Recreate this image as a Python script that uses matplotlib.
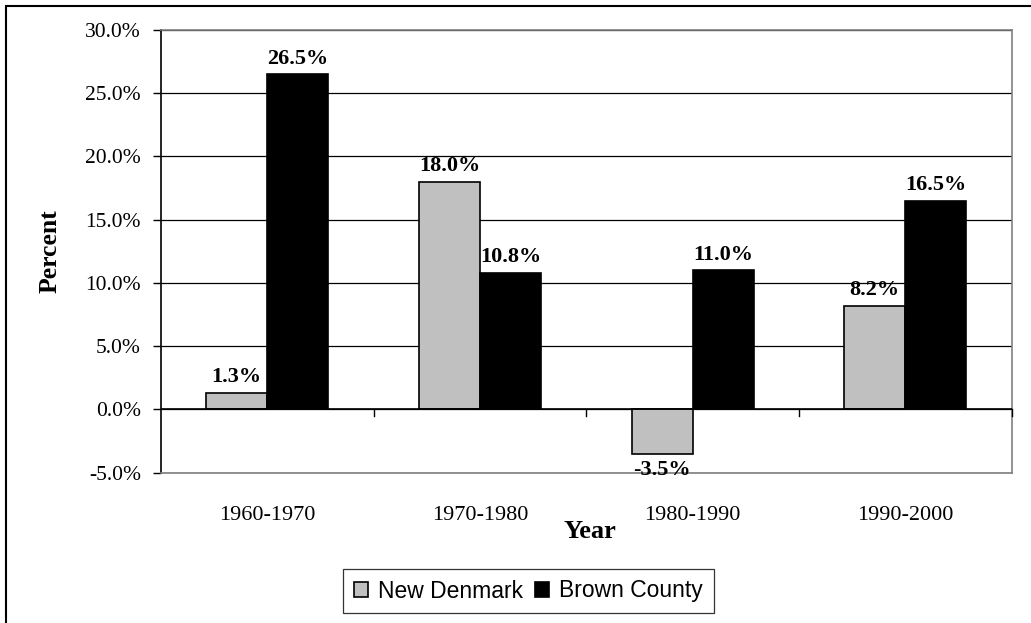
import matplotlib.pyplot as plt
import numpy as np
from matplotlib.patches import Rectangle

# population change by decade
periods = ["1960-1970", "1970-1980", "1980-1990", "1990-2000"]
new_denmark = [1.3, 18.0, -3.5, 8.2]
brown_county = [26.5, 10.8, 11.0, 16.5]
yticks = [-5, 0, 5, 10, 15, 20, 25, 30]

serif = "Liberation Serif"

fig = plt.figure(figsize=(10.31, 6.23), dpi=100)
ax = fig.add_axes([161 / 1031, 1 - 472.5 / 623, 850.5 / 1031, 442.5 / 623])

# outer chart border (only left/top fall inside the image)
fig.patches.append(Rectangle((6 / 1031, -0.05), 1.2, 1 - 6.5 / 623 + 0.05,
                             transform=fig.transFigure, fill=False,
                             edgecolor="black", linewidth=1.5))

x = np.arange(len(periods))
w = 0.287
b1 = ax.bar(x - w / 2, new_denmark, w, color="#c0c0c0", edgecolor="black",
            linewidth=1.2, label="New Denmark", zorder=3)
b2 = ax.bar(x + w / 2, brown_county, w, color="black", edgecolor="black",
            linewidth=1.2, label="Brown County", zorder=3)

for bars, vals in ((b1, new_denmark), (b2, brown_county)):
    for r, v in zip(bars, vals):
        cx = r.get_x() + r.get_width() / 2
        if v >= 0:
            ax.annotate("%.1f%%" % v, (cx, v), xytext=(0, 4), textcoords="offset points",
                        ha="center", va="bottom", fontsize=16, fontweight="bold",
                        family=serif, zorder=4)
        else:
            ax.annotate("%.1f%%" % v, (cx, v), xytext=(0, -5), textcoords="offset points",
                        ha="center", va="top", fontsize=16, fontweight="bold",
                        family=serif, zorder=4)

ax.set_xlim(-0.5, len(periods) - 0.5)
ax.set_ylim(-5, 30)
ax.set_yticks(yticks)
ax.set_yticklabels(["%.1f%%" % t for t in yticks], family=serif, fontsize=15.5)
ax.yaxis.grid(True, color="black", linewidth=0.9, zorder=0)
ax.tick_params(axis="y", direction="out", length=6, width=1, pad=8.5)

# category labels, no ticks at the bottom
ax.set_xticks(x)
ax.set_xticklabels(periods, family=serif, fontsize=16)
ax.tick_params(axis="x", length=0, pad=24)

# category axis along zero with separator ticks
ax.axhline(0, color="black", linewidth=1.2, zorder=4)
for sep in np.arange(0.5, len(periods) - 0.5, 1.0):
    ax.plot([sep, sep], [0, -0.55], color="black", linewidth=1, zorder=4)
ax.plot([len(periods) - 0.5] * 2, [0, -0.55], color="black", linewidth=1,
        clip_on=False, zorder=4)

for side in ("top", "right", "bottom"):
    ax.spines[side].set_color("#808080")
    ax.spines[side].set_linewidth(1.2)
ax.spines["left"].set_color("black")
ax.spines["left"].set_linewidth(1.2)

fig.text(590 / 1031, 1 - 532 / 623, "Year", ha="center", va="center",
         family=serif, fontsize=19, fontweight="bold")
fig.text(50 / 1031, 1 - 251 / 623, "Percent", ha="center", va="center",
         rotation=90, family=serif, fontsize=18.5, fontweight="bold")

leg = fig.legend(loc="center", bbox_to_anchor=(528.5 / 1031, 1 - 591 / 623),
                 ncol=2, frameon=True, fancybox=False, edgecolor="black",
                 prop={"family": "Liberation Sans", "size": 16.5},
                 handlelength=0.6, handleheight=0.6, handletextpad=0.45,
                 columnspacing=0.55, borderpad=0.45, borderaxespad=0)
leg.get_frame().set_linewidth(0.9)

fig.savefig("out.png", dpi=100)
